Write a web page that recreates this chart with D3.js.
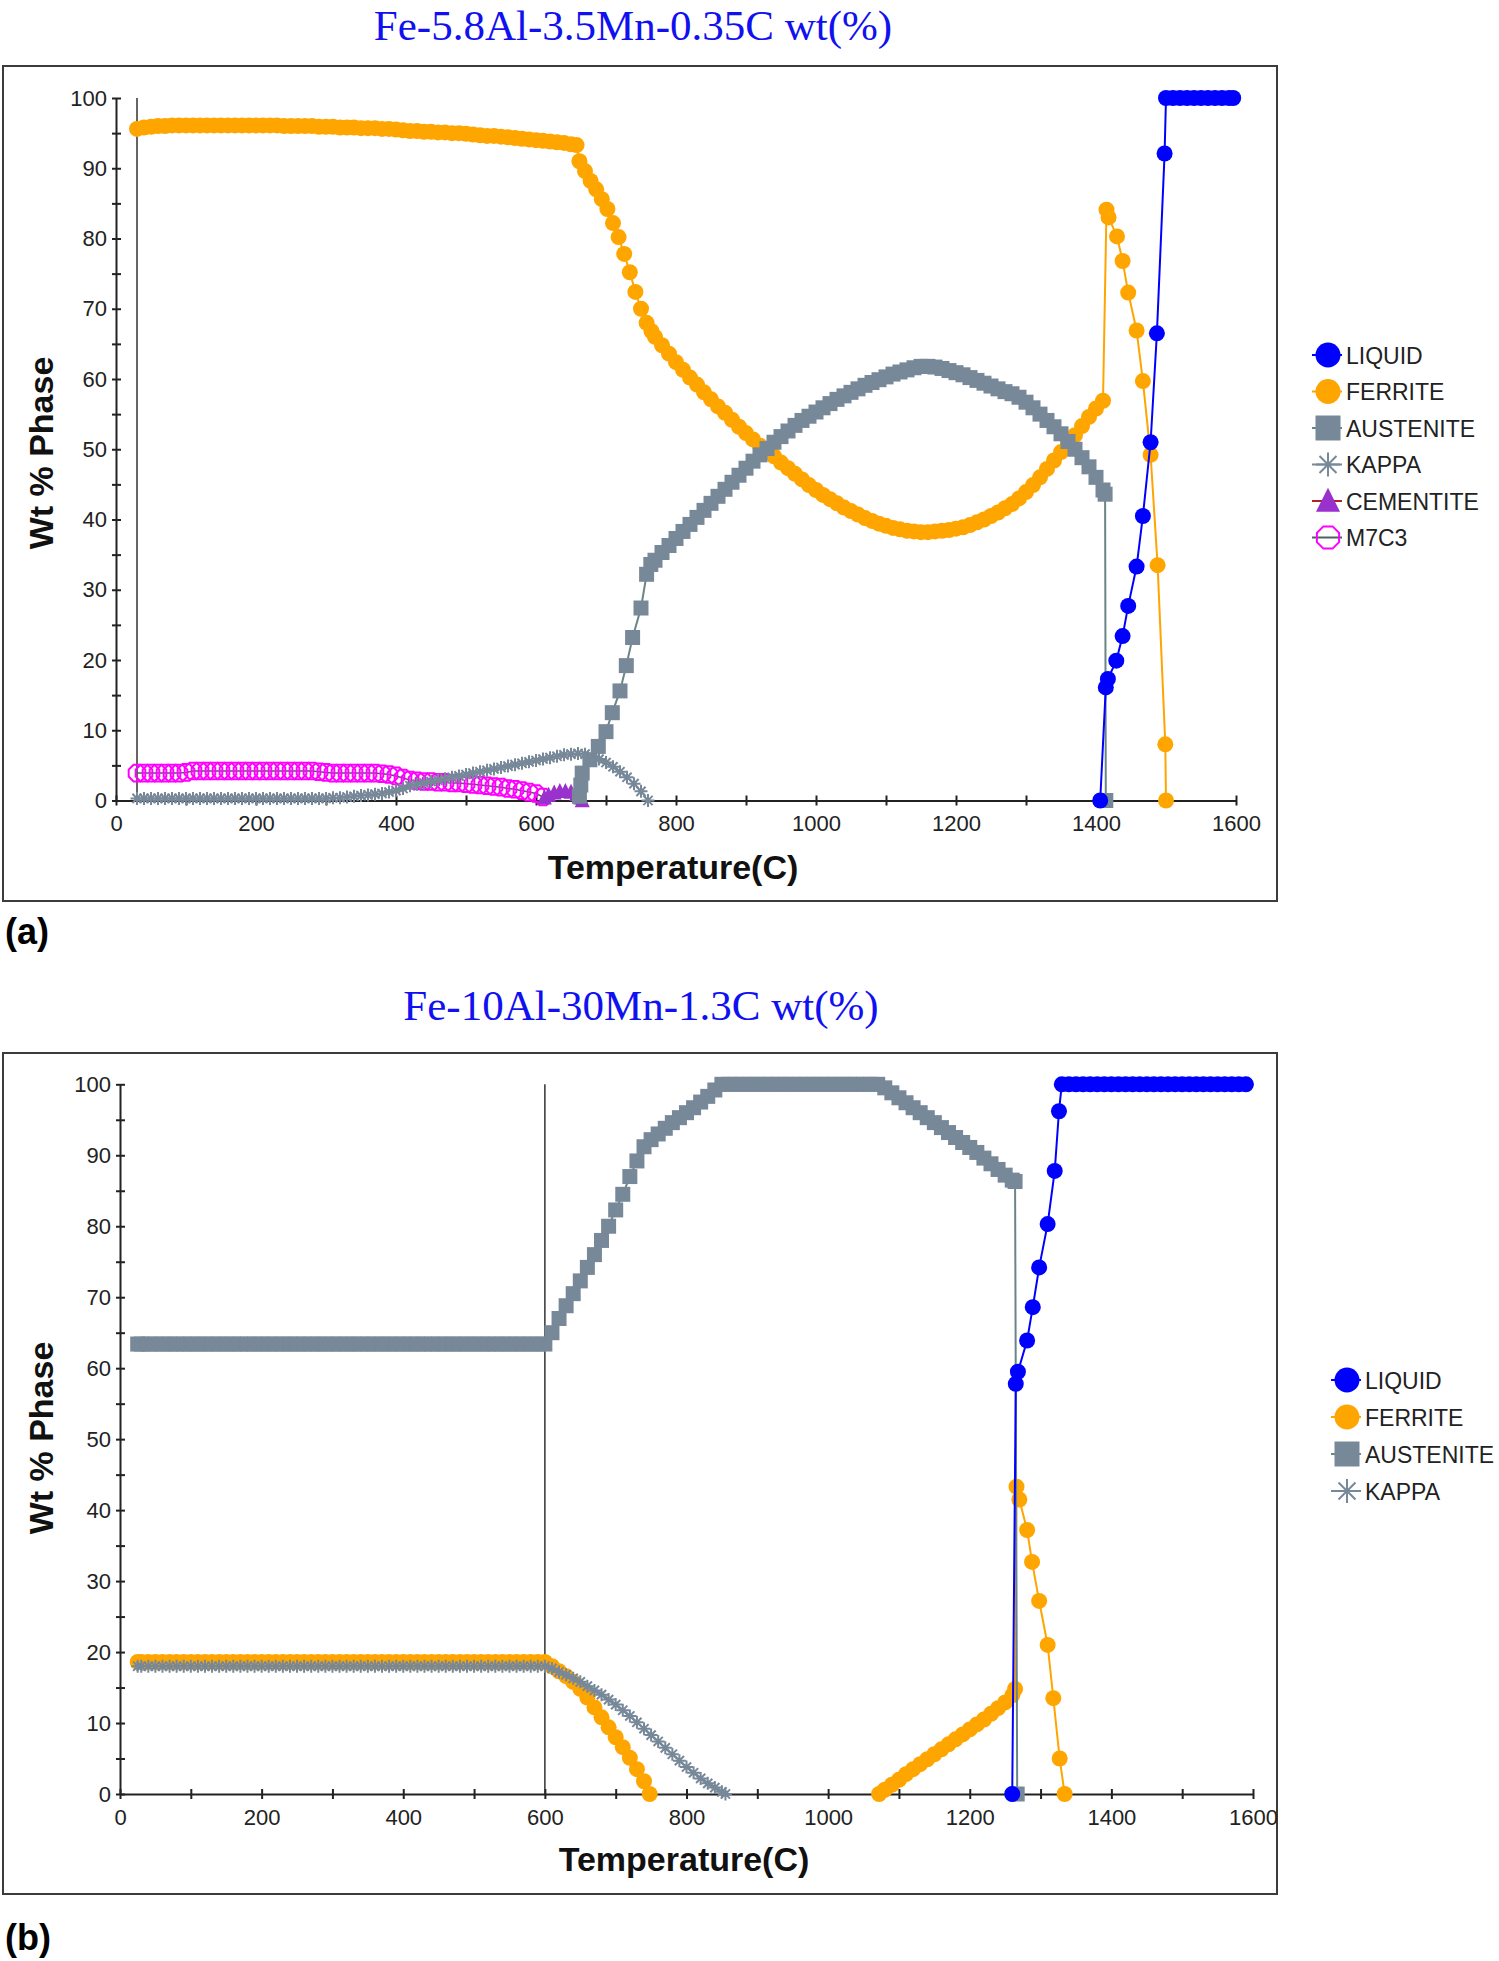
<!DOCTYPE html>
<html><head><meta charset="utf-8">
<script src="https://cdn.jsdelivr.net/npm/d3@7"></script>
<style>body{margin:0;background:#fff}svg{display:block}</style>
</head><body>
<script>
// ---------- tick labels ----------
const xTickLabels = [0,200,400,600,800,1000,1200,1400,1600];
const xTickMarks  = [0,100,200,300,400,500,600,700,800,900,1000,1100,1200,1300,1400,1500,1600];
const yTickLabels = [0,10,20,30,40,50,60,70,80,90,100];
const yTickMarks  = [0,5,10,15,20,25,30,35,40,45,50,55,60,65,70,75,80,85,90,95,100];
const legendA = ["LIQUID","FERRITE","AUSTENITE","KAPPA","CEMENTITE","M7C3"];
const legendB = ["LIQUID","FERRITE","AUSTENITE","KAPPA"];
const refLineA = [30];
const refLineB = [600];

// ---------- (a) Fe-5.8Al-3.5Mn-0.35C : [T(C), wt%] ----------
const ferriteA = [[30,95.6],[40,95.8],[50,95.9],[60,96.0],[70,96.0],[80,96.1],[90,96.1],[100,96.1],[110,96.1],[120,96.1],[130,96.1],[140,96.1],[150,96.1],[160,96.1],[170,96.1],[180,96.1],[190,96.1],[200,96.1],[210,96.1],[220,96.1],[230,96.1],[240,96.0],[250,96.0],[260,96.0],[270,96.0],[280,96.0],[290,95.9],[300,95.9],[310,95.9],[320,95.8],[330,95.8],[340,95.8],[350,95.7],[360,95.7],[370,95.7],[380,95.6],[390,95.6],[400,95.5],[410,95.4],[420,95.3],[430,95.3],[440,95.2],[450,95.2],[460,95.1],[470,95.1],[480,95.0],[490,95.0],[500,94.9],[510,94.8],[520,94.7],[530,94.6],[540,94.6],[550,94.5],[560,94.4],[570,94.3],[580,94.2],[590,94.1],[600,94.0],[610,93.9],[620,93.8],[630,93.7],[640,93.6],[650,93.4],[658,93.3],
[662,91.0],[670,89.6],[678,88.2],[686,87.0],[694,85.6],[702,84.2],[710,82.2],[718,80.2],[726,77.8],[734,75.2],[742,72.4],[750,70.0],[758,68.0],[765,66.8],[770,66.0],[780,64.8],[790,63.6],[800,62.4],[810,61.3],[820,60.2],[830,59.2],[840,58.1],[850,57.1],[860,56.1],[870,55.2],[880,54.2],[890,53.2],[900,52.3],[910,51.4],[920,50.5],[930,49.8],[940,49.0],[950,48.1],[960,47.3],[970,46.5],[980,45.7],[990,44.9],[1000,44.2],[1010,43.5],[1020,42.9],[1030,42.3],[1040,41.7],[1050,41.2],[1060,40.7],[1070,40.2],[1080,39.8],[1090,39.4],[1100,39.1],[1110,38.8],[1120,38.6],[1130,38.4],[1140,38.3],[1150,38.2],[1160,38.2],[1170,38.3],[1180,38.4],[1190,38.5],[1200,38.7],[1210,38.9],[1220,39.2],[1230,39.6],[1240,40.0],[1250,40.5],[1260,41.0],[1270,41.6],[1280,42.2],[1290,43.0],[1300,43.9],[1310,44.9],[1320,46.0],[1330,47.2],[1340,48.4],[1350,49.6],[1360,50.8],[1370,52.0],[1380,53.3],[1390,54.6],[1400,55.8],[1410,56.9],
[1415,84.1],[1418,83.0],[1430,80.3],[1438,76.8],[1446,72.3],[1458,66.9],[1467,59.7],[1478,49.2],[1488,33.5],[1499,8.0],[1500,0]];

const austeniteA = [[662,0.6],[664,2.2],[666,3.9],[677,5.8],[689,7.7],[700,9.8],[709,12.5],[720,15.6],[729,19.2],[738,23.2],[750,27.4],[758,32.2],[764,33.6],[770,34.2],[780,35.3],[790,36.3],[800,37.3],[810,38.3],[820,39.3],[830,40.3],[840,41.3],[850,42.3],[860,43.3],[870,44.3],[880,45.3],[890,46.3],[900,47.3],[910,48.3],[920,49.2],[930,50.1],[940,51.0],[950,51.8],[960,52.6],[970,53.4],[980,54.1],[990,54.7],[1000,55.3],[1010,55.9],[1020,56.5],[1030,57.1],[1040,57.6],[1050,58.1],[1060,58.6],[1070,59.1],[1080,59.5],[1090,59.9],[1100,60.3],[1110,60.7],[1120,61.0],[1130,61.3],[1140,61.6],[1150,61.8],[1160,61.8],[1170,61.7],[1180,61.5],[1190,61.2],[1200,60.9],[1210,60.6],[1220,60.2],[1230,59.8],[1240,59.4],[1250,59.0],[1260,58.6],[1270,58.2],[1280,57.9],[1290,57.4],[1300,56.7],[1310,55.9],[1320,55.0],[1330,54.1],[1340,53.2],[1350,52.2],[1360,51.1],[1370,50.0],[1380,48.8],[1390,47.5],[1400,46.0],[1410,44.2],[1413,43.6],[1414,0]];

const kappaA = [[30,0.3],[40,0.3],[50,0.3],[60,0.3],[70,0.3],[80,0.3],[90,0.3],[100,0.3],[110,0.3],[120,0.3],[130,0.3],[140,0.3],[150,0.3],[160,0.3],[170,0.3],[180,0.3],[190,0.3],[200,0.3],[210,0.3],[220,0.3],[230,0.3],[240,0.3],[250,0.3],[260,0.3],[270,0.3],[280,0.3],[290,0.3],[300,0.3],[310,0.4],[320,0.4],[330,0.5],[340,0.6],[350,0.7],[360,0.8],[370,0.9],[380,1.0],[390,1.2],[400,1.4],[410,1.7],[420,2.1],[430,2.3],[440,2.5],[450,2.7],[460,2.9],[470,3.1],[480,3.3],[490,3.5],[500,3.7],[510,3.9],[520,4.1],[530,4.3],[540,4.5],[550,4.7],[560,4.9],[570,5.1],[580,5.3],[590,5.5],[600,5.7],[610,5.9],[620,6.1],[630,6.3],[640,6.5],[650,6.6],[660,6.7],[670,6.6],[680,6.3],[690,5.9],[700,5.4],[710,4.8],[720,4.1],[730,3.3],[740,2.4],[750,1.3],[760,0]];

const m7c3A = [[30,3.9],[40,3.9],[50,3.9],[60,3.9],[70,3.9],[80,3.9],[90,3.9],[100,4.0],[110,4.2],[120,4.2],[130,4.2],[140,4.2],[150,4.2],[160,4.2],[170,4.2],[180,4.2],[190,4.2],[200,4.2],[210,4.2],[220,4.2],[230,4.2],[240,4.2],[250,4.2],[260,4.2],[270,4.2],[280,4.2],[290,4.1],[300,4.0],[310,3.9],[320,3.9],[330,3.9],[340,3.9],[350,3.9],[360,3.9],[370,3.9],[380,3.8],[390,3.7],[400,3.5],[410,3.2],[420,2.9],[430,2.8],[440,2.7],[450,2.7],[460,2.6],[470,2.6],[480,2.5],[490,2.5],[500,2.4],[510,2.3],[520,2.2],[530,2.1],[540,2.0],[550,1.9],[560,1.7],[570,1.6],[580,1.4],[590,1.2],[600,1.0],[610,0.5]];

const cementiteA = [[612,0.4],[618,0.8],[626,1.1],[634,1.3],[642,1.3],[650,1.2],[658,0.9],[664,0.4],[666,0]];

const liquidA = [[1406,0],[1414,16.1],[1417,17.3],[1429,19.9],[1438,23.4],[1446,27.7],[1458,33.3],[1467,40.5],[1478,51.0],[1487,66.5],[1498,92.1],[1500,100],[1510,100],[1520,100],[1530,100],[1540,100],[1550,100],[1560,100],[1570,100],[1580,100],[1590,100],[1596,100]];

// ---------- (b) Fe-10Al-30Mn-1.3C : [T(C), wt%] ----------
const austeniteB = [[25,63.4],[30,63.4],[40,63.4],[50,63.4],[60,63.4],[70,63.4],[80,63.4],[90,63.4],[100,63.4],[110,63.4],[120,63.4],[130,63.4],[140,63.4],[150,63.4],[160,63.4],[170,63.4],[180,63.4],[190,63.4],[200,63.4],[210,63.4],[220,63.4],[230,63.4],[240,63.4],[250,63.4],[260,63.4],[270,63.4],[280,63.4],[290,63.4],[300,63.4],[310,63.4],[320,63.4],[330,63.4],[340,63.4],[350,63.4],[360,63.4],[370,63.4],[380,63.4],[390,63.4],[400,63.4],[410,63.4],[420,63.4],[430,63.4],[440,63.4],[450,63.4],[460,63.4],[470,63.4],[480,63.4],[490,63.4],[500,63.4],[510,63.4],[520,63.4],[530,63.4],[540,63.4],[550,63.4],[560,63.4],[570,63.4],[580,63.4],[590,63.4],[600,63.4],
[610,65.0],[620,67.0],[630,68.8],[640,70.5],[650,72.3],[660,74.2],[670,76.0],[680,78.0],[690,80.0],[700,82.3],[710,84.5],[720,87.0],[730,89.2],[740,91.2],[750,92.2],[760,93.0],[770,93.8],[780,94.6],[790,95.3],[800,96.0],[810,96.7],[820,97.5],[830,98.3],[840,99.2],[850,100],[860,100],[870,100],[880,100],[890,100],[900,100],[910,100],[920,100],[930,100],[940,100],[950,100],[960,100],[970,100],[980,100],[990,100],[1000,100],[1010,100],[1020,100],[1030,100],[1040,100],[1050,100],[1060,100],[1070,100],[1080,99.5],[1090,98.8],[1100,98.1],[1110,97.4],[1120,96.7],[1130,96.0],[1140,95.3],[1150,94.6],[1160,93.9],[1170,93.2],[1180,92.5],[1190,91.8],[1200,91.1],[1210,90.4],[1220,89.6],[1230,88.8],[1240,88.0],[1250,87.2],[1260,86.5],[1264,86.3],[1267,0]];

const ferriteB = [[25,18.6],[30,18.6],[40,18.6],[50,18.6],[60,18.6],[70,18.6],[80,18.6],[90,18.6],[100,18.6],[110,18.6],[120,18.6],[130,18.6],[140,18.6],[150,18.6],[160,18.6],[170,18.6],[180,18.6],[190,18.6],[200,18.6],[210,18.6],[220,18.6],[230,18.6],[240,18.6],[250,18.6],[260,18.6],[270,18.6],[280,18.6],[290,18.6],[300,18.6],[310,18.6],[320,18.6],[330,18.6],[340,18.6],[350,18.6],[360,18.6],[370,18.6],[380,18.6],[390,18.6],[400,18.6],[410,18.6],[420,18.6],[430,18.6],[440,18.6],[450,18.6],[460,18.6],[470,18.6],[480,18.6],[490,18.6],[500,18.6],[510,18.6],[520,18.6],[530,18.6],[540,18.6],[550,18.6],[560,18.6],[570,18.6],[580,18.6],[590,18.6],[600,18.6],
[610,18.0],[620,17.3],[630,16.6],[640,15.8],[650,14.8],[660,13.6],[670,12.2],[680,10.8],[690,9.4],[700,8.0],[710,6.6],[720,5.1],[730,3.5],[740,1.8],[748,0],
null,
[1072,0],[1080,0.6],[1090,1.3],[1100,2.0],[1110,2.8],[1120,3.5],[1130,4.2],[1140,4.9],[1150,5.6],[1160,6.3],[1170,7.0],[1180,7.7],[1190,8.4],[1200,9.1],[1210,9.8],[1220,10.5],[1230,11.3],[1240,12.1],[1250,12.9],[1260,13.9],[1264,14.8],
[1266,43.3],[1270,41.5],[1281,37.2],[1288,32.7],[1298,27.2],[1310,21.0],[1318,13.5],[1327,5.0],[1334,0]];

const kappaB = [[25,18.0],[30,18.0],[40,18.0],[50,18.0],[60,18.0],[70,18.0],[80,18.0],[90,18.0],[100,18.0],[110,18.0],[120,18.0],[130,18.0],[140,18.0],[150,18.0],[160,18.0],[170,18.0],[180,18.0],[190,18.0],[200,18.0],[210,18.0],[220,18.0],[230,18.0],[240,18.0],[250,18.0],[260,18.0],[270,18.0],[280,18.0],[290,18.0],[300,18.0],[310,18.0],[320,18.0],[330,18.0],[340,18.0],[350,18.0],[360,18.0],[370,18.0],[380,18.0],[390,18.0],[400,18.0],[410,18.0],[420,18.0],[430,18.0],[440,18.0],[450,18.0],[460,18.0],[470,18.0],[480,18.0],[490,18.0],[500,18.0],[510,18.0],[520,18.0],[530,18.0],[540,18.0],[550,18.0],[560,18.0],[570,18.0],[580,18.0],[590,18.0],[600,18.0],
[610,17.7],[620,17.2],[630,16.8],[640,16.3],[650,15.8],[660,15.2],[670,14.6],[680,14.0],[690,13.3],[700,12.6],[710,11.8],[720,11.0],[730,10.1],[740,9.2],[750,8.3],[760,7.4],[770,6.5],[780,5.6],[790,4.7],[800,3.8],[810,3.0],[820,2.2],[830,1.5],[840,0.9],[850,0.3],[855,0]];

const liquidB = [[1260,0],[1265,57.8],[1268,59.5],[1281,63.9],[1289,68.6],[1298,74.2],[1310,80.3],[1320,87.8],[1326,96.2],[1330,100],[1340,100],[1350,100],[1360,100],[1370,100],[1380,100],[1390,100],[1400,100],[1410,100],[1420,100],[1430,100],[1440,100],[1450,100],[1460,100],[1470,100],[1480,100],[1490,100],[1500,100],[1510,100],[1520,100],[1530,100],[1540,100],[1550,100],[1560,100],[1570,100],[1580,100],[1590,100]];

// ---------- styles ----------
const STYLE = {
  LIQUID:    {marker:"circle",  size:8,   fill:"#0000ff", stroke:null, line:"#0000ff", lw:2, lsize:12.5},
  FERRITE:   {marker:"circle",  size:8,   fill:"#ffa500", stroke:null, line:"#ffa500", lw:2, lsize:12.5},
  AUSTENITE: {marker:"square",  size:15,  fill:"#778899", stroke:null, line:"#6b8585", lw:2, lsize:25},
  KAPPA:     {marker:"star",    size:6.5, fill:"none", stroke:"#778899", line:"#778899", lw:1.5, lsize:12},
  CEMENTITE: {marker:"triangle",size:15,  fill:"#9932cc", stroke:null, line:"#b22222", lw:1.5, lsize:24},
  M7C3:      {marker:"octagon", size:9,   fill:"none", stroke:"#ff00ff", line:"#4f6060", lw:1.5, lsize:12}
};
const SYM = {
  circle: r => d3.symbol(d3.symbolCircle, Math.PI*r*r)(),
  square: s => `M${-s/2},${-s/2}h${s}v${s}h${-s}Z`,
  triangle: s => `M0,${-s*0.55}L${s/2},${s*0.45}L${-s/2},${s*0.45}Z`,
  star: r => { const a = r*0.7071; return `M${-r},0H${r}M0,${-r}V${r}M${-a},${-a}L${a},${a}M${-a},${a}L${a},${-a}`; },
  octagon: r => { let p=""; for (let k=0;k<8;k++){const t=(k+0.5)*Math.PI/4; p+=(k?"L":"M")+(r*Math.cos(t)).toFixed(2)+","+(r*Math.sin(t)).toFixed(2);} return p+"Z"; }
};

const W = 1499, H = 1961;
const svg = d3.select("body").append("svg").attr("width", W).attr("height", H);
const SANS = "'Liberation Sans', Arial, Helvetica, sans-serif";

function drawMarker(sel, name, sz) {
  const s = STYLE[name];
  sel.attr("d", SYM[s.marker](sz))
     .attr("fill", s.fill)
     .attr("stroke", s.stroke || "none")
     .attr("stroke-width", s.stroke ? 2 : 0);
}

function drawChart(o) {
  const g = svg.append("g");
  const [fx0, fy0, fx1, fy1] = o.frame;
  g.append("rect").attr("x", fx0).attr("y", fy0).attr("width", fx1 - fx0).attr("height", fy1 - fy0)
    .attr("fill", "none").attr("stroke", "#3c3c3c").attr("stroke-width", 2);

  const x = d3.scaleLinear().domain([0, 1600]).range(o.xr);
  const y = d3.scaleLinear().domain([0, 100]).range(o.yr);

  // title
  g.append("text").attr("x", o.titleX).attr("y", o.titleY).attr("text-anchor", "middle")
    .attr("font-family", "'Liberation Serif', 'Times New Roman', serif").attr("font-size", 43)
    .attr("fill", "#1010f0").text(o.title);

  // y axis
  const gy = g.append("g").attr("transform", `translate(${o.xr[0]},0)`)
    .call(d3.axisLeft(y).tickValues(yTickMarks).tickSizeInner(4).tickSizeOuter(0)
      .tickFormat(d => yTickLabels.includes(d) ? d : ""));
  gy.select(".domain").attr("stroke", "#222").attr("stroke-width", 2);
  gy.selectAll(".tick line").attr("x1", -4).attr("x2", 5).attr("stroke", "#222").attr("stroke-width", 2);
  gy.selectAll(".tick text").attr("x", -9).attr("font-size", 22).attr("font-family", SANS).attr("fill", "#222");

  // x axis
  const gx = g.append("g").attr("transform", `translate(0,${o.yr[0]})`)
    .call(d3.axisBottom(x).tickValues(xTickMarks).tickSizeInner(5).tickSizeOuter(0)
      .tickFormat(d => xTickLabels.includes(d) ? d : ""));
  gx.select(".domain").attr("stroke", "#222").attr("stroke-width", 2);
  gx.selectAll(".tick line").attr("y1", -5).attr("y2", 5).attr("stroke", "#222").attr("stroke-width", 2);
  gx.selectAll(".tick text").attr("y", 15).attr("dy", "0.71em").attr("font-size", 22).attr("font-family", SANS).attr("fill", "#222");

  // reference vertical line
  g.selectAll("line.ref").data(o.refLine).join("line").attr("class", "ref")
    .attr("x1", d => x(d)).attr("x2", d => x(d)).attr("y1", y(0)).attr("y2", y(100))
    .attr("stroke", "#333").attr("stroke-width", 1.5);

  // series
  const line = d3.line().defined(d => d != null).x(d => x(d[0])).y(d => y(d[1]));
  o.series.forEach(([name, data]) => {
    const s = STYLE[name];
    g.append("path").datum(data).attr("d", line).attr("fill", "none")
      .attr("stroke", s.line).attr("stroke-width", s.lw);
    g.append("g").selectAll("path").data(data.filter(d => d != null)).join("path")
      .attr("transform", d => `translate(${x(d[0])},${y(d[1])})`)
      .call(sel => drawMarker(sel, name, s.size));
  });

  // axis titles
  g.append("text").attr("x", o.xlabelX).attr("y", o.xlabelY).attr("text-anchor", "middle")
    .attr("font-family", SANS).attr("font-weight", "bold").attr("font-size", 34).attr("fill", "#111")
    .text("Temperature(C)");
  g.append("text").attr("transform", `translate(53,${o.ylabelY}) rotate(-90)`).attr("text-anchor", "middle")
    .attr("font-family", SANS).attr("font-weight", "bold").attr("font-size", 34).attr("fill", "#111")
    .text("Wt % Phase");

  // legend
  const lg = g.append("g");
  o.legend.forEach((name, i) => {
    const s = STYLE[name];
    const cy = o.legendY0 + i * o.legendDY;
    lg.append("line").attr("x1", o.legendX - 16).attr("x2", o.legendX + 14).attr("y1", cy).attr("y2", cy)
      .attr("stroke", s.line).attr("stroke-width", 2);
    lg.append("path").attr("transform", `translate(${o.legendX},${cy})`).call(sel => drawMarker(sel, name, s.lsize));
    lg.append("text").attr("x", o.legendX + 18).attr("y", cy + 8.5)
      .attr("font-family", SANS).attr("font-size", 23).attr("fill", "#222").text(name);
  });

  // panel label
  g.append("text").attr("x", 5).attr("y", o.panelY).attr("font-family", SANS).attr("font-weight", "bold")
    .attr("font-size", 36).attr("fill", "#000").text(o.panel);
}

drawChart({
  frame: [3, 66, 1277, 901], xr: [116, 1236], yr: [800.5, 98],
  title: "Fe-5.8Al-3.5Mn-0.35C wt(%)", titleX: 633, titleY: 40,
  xlabelX: 673, xlabelY: 879, ylabelY: 453, refLine: refLineA,
  panel: "(a)", panelY: 944,
  legend: legendA, legendX: 1328, legendY0: 355, legendDY: 36.5,
  series: [["M7C3", m7c3A], ["CEMENTITE", cementiteA], ["FERRITE", ferriteA], ["AUSTENITE", austeniteA], ["KAPPA", kappaA], ["LIQUID", liquidA]]
});

drawChart({
  frame: [3, 1053, 1277, 1894], xr: [120, 1253], yr: [1794, 1084.3],
  title: "Fe-10Al-30Mn-1.3C wt(%)", titleX: 641, titleY: 1020,
  xlabelX: 684, xlabelY: 1871, ylabelY: 1438, refLine: refLineB,
  panel: "(b)", panelY: 1950,
  legend: legendB, legendX: 1347, legendY0: 1380, legendDY: 37,
  series: [["FERRITE", ferriteB], ["AUSTENITE", austeniteB], ["KAPPA", kappaB], ["LIQUID", liquidB]]
});
</script>
</body></html>
